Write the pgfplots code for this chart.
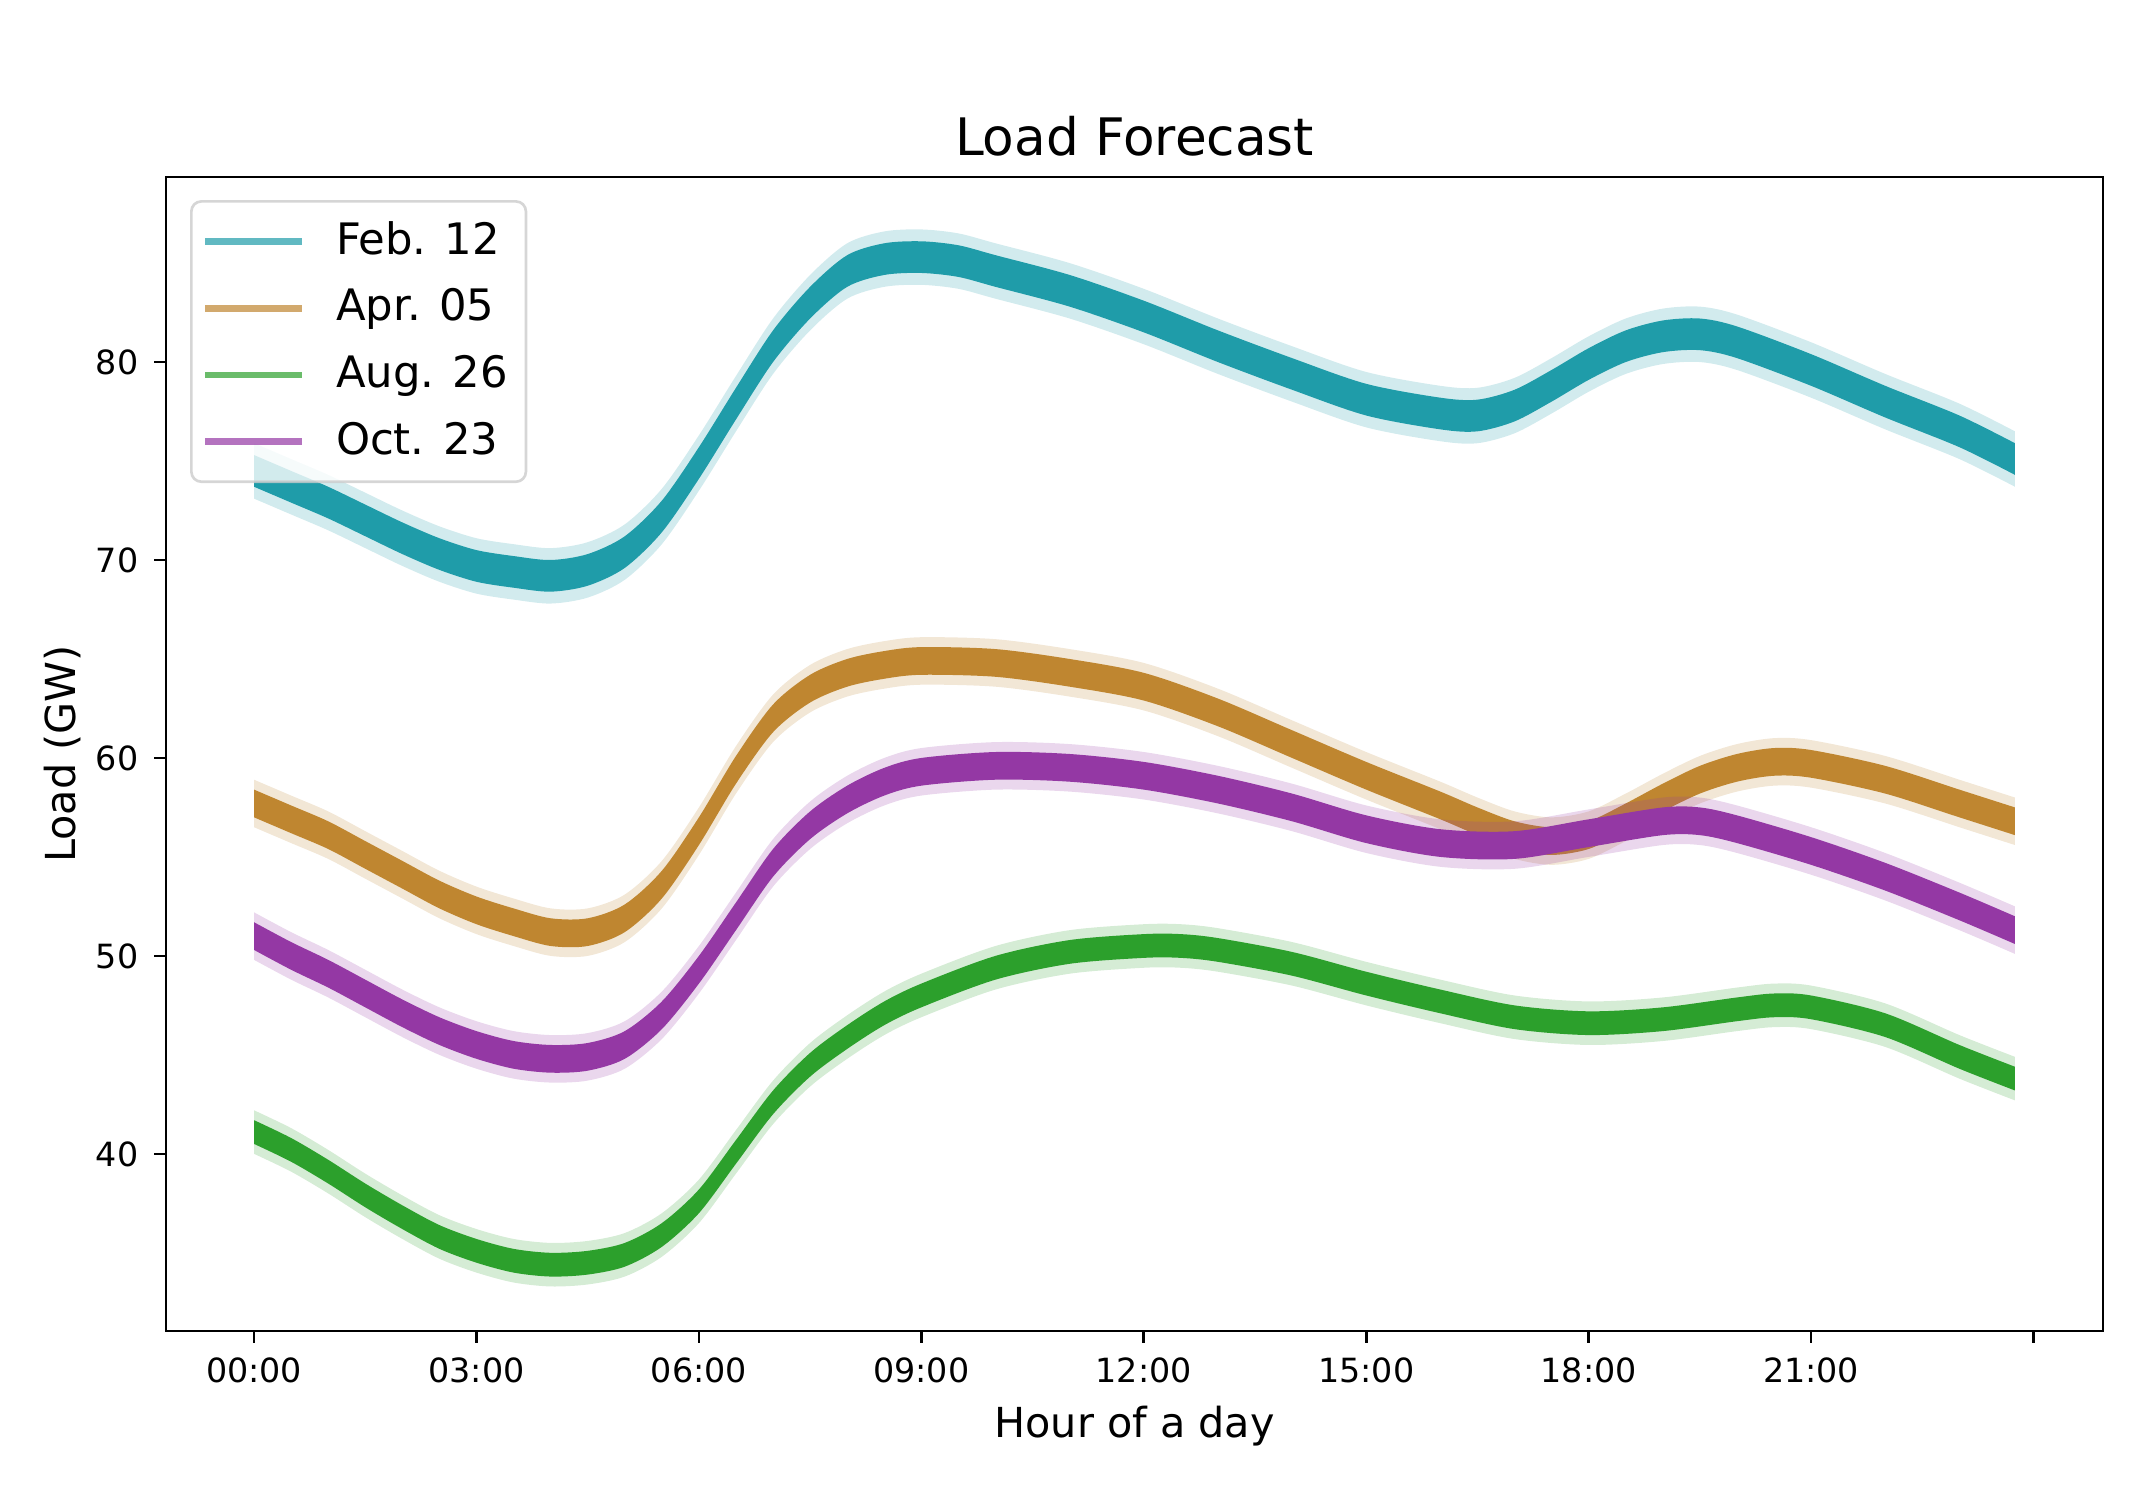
\documentclass[border=0pt]{standalone}
\usepackage{pgfplots}
\pgfplotsset{compat=1.18}
\usepackage{pgfplotstable}
\usepgfplotslibrary{fillbetween}
\usepackage{fontspec}
\setmainfont{DejaVu Sans}
\definecolor{cteal}{HTML}{1F9CA9}
\definecolor{cgold}{HTML}{BF8630}
\definecolor{cgreen}{HTML}{2CA02C}
\definecolor{cpurple}{HTML}{9438A4}

\pgfplotstableread{
h lo2 lo hi hi2
0 73.1 73.7 75.3 75.9
0.5 72.3 72.9 74.5 75.1
1 71.5 72.1 73.7 74.3
1.5 70.6 71.2 72.8 73.4
2 69.7 70.3 71.9 72.5
2.5 68.9 69.5 71.1 71.7
3 68.3 68.9 70.5 71.1
3.5 68.0 68.6 70.2 70.8
4 67.8 68.4 70.0 70.6
4.5 68.1 68.7 70.3 70.9
5 69.0 69.6 71.2 71.8
5.5 70.8 71.4 73.0 73.6
6 73.5 74.1 75.7 76.3
6.5 76.5 77.1 78.7 79.3
7 79.4 80.0 81.6 82.2
7.5 81.6 82.2 83.8 84.4
8 83.2 83.8 85.4 86.0
8.5 83.8 84.4 86.0 86.6
9 83.9 84.5 86.1 86.7
9.5 83.7 84.3 85.9 86.5
10 83.2 83.8 85.4 86.0
11 82.2 82.8 84.4 85.0
12 80.9 81.5 83.1 83.7
13 79.4 80.0 81.6 82.2
14 78.0 78.6 80.2 80.8
15 76.7 77.3 78.9 79.5
16 76.0 76.6 78.2 78.8
16.5 75.9 76.5 78.1 78.7
17 76.4 77.0 78.6 79.2
17.5 77.4 78.0 79.6 80.2
18 78.5 79.1 80.7 81.3
18.5 79.4 80.0 81.6 82.2
19 79.9 80.5 82.1 82.7
19.5 80.0 80.6 82.2 82.8
20 79.6 80.2 81.8 82.4
21 78.2 78.8 80.4 81.0
22 76.6 77.2 78.8 79.4
23 75.1 75.7 77.3 77.9
23.75 73.7 74.3 75.9 76.5
}\tabfeb

\pgfplotstableread{
h lo2 lo hi hi2
0 56.5 57.0 58.4 58.9
0.5 55.7 56.2 57.6 58.1
1 54.9 55.4 56.8 57.3
1.5 53.9 54.4 55.8 56.3
2 52.9 53.4 54.8 55.3
2.5 51.9 52.4 53.8 54.3
3 51.1 51.6 53.0 53.5
3.5 50.5 51.0 52.4 52.9
4 50.0 50.5 51.9 52.4
4.5 50.0 50.5 51.9 52.4
5 50.7 51.2 52.6 53.1
5.5 52.4 52.9 54.3 54.8
6 55.1 55.6 57.0 57.5
6.5 58.2 58.7 60.1 60.6
7 60.8 61.3 62.7 63.2
7.5 62.3 62.8 64.2 64.7
8 63.1 63.6 65.0 65.5
8.5 63.5 64.0 65.4 65.9
9 63.7 64.2 65.6 66.1
10 63.6 64.1 65.5 66.0
11 63.1 63.6 65.0 65.5
12 62.4 62.9 64.3 64.8
13 61.1 61.6 63.0 63.5
14 59.5 60.0 61.4 61.9
15 57.9 58.4 59.8 60.3
16 56.4 56.9 58.3 58.8
16.5 55.6 56.1 57.5 58.0
17 54.9 55.4 56.8 57.3
17.5 54.6 55.1 56.5 57.0
18 54.9 55.4 56.8 57.3
18.5 55.8 56.3 57.7 58.2
19 56.8 57.3 58.7 59.2
19.5 57.7 58.2 59.6 60.1
20 58.3 58.8 60.2 60.7
20.5 58.6 59.1 60.5 61.0
21 58.5 59.0 60.4 60.9
22 57.7 58.2 59.6 60.1
23 56.5 57.0 58.4 58.9
23.75 55.6 56.1 57.5 58.0
}\tabapr

\pgfplotstableread{
h lo2 lo hi hi2
0 40.0 40.5 41.7 42.2
0.5 39.1 39.6 40.8 41.3
1 38.0 38.5 39.7 40.2
1.5 36.8 37.3 38.5 39.0
2 35.7 36.2 37.4 37.9
2.5 34.7 35.2 36.4 36.9
3 34.0 34.5 35.7 36.2
3.5 33.5 34.0 35.2 35.7
4 33.3 33.8 35.0 35.5
4.5 33.4 33.9 35.1 35.6
5 33.8 34.3 35.5 36.0
5.5 34.8 35.3 36.5 37.0
6 36.5 37.0 38.2 38.7
6.5 39.0 39.5 40.7 41.2
7 41.5 42.0 43.2 43.7
7.5 43.4 43.9 45.1 45.6
8 44.8 45.3 46.5 47.0
8.5 46.0 46.5 47.7 48.2
9 46.9 47.4 48.6 49.1
10 48.3 48.8 50.0 50.5
11 49.1 49.6 50.8 51.3
12 49.4 49.9 51.1 51.6
12.5 49.4 49.9 51.1 51.6
13 49.2 49.7 50.9 51.4
14 48.5 49.0 50.2 50.7
15 47.5 48.0 49.2 49.7
16 46.6 47.1 48.3 48.8
17 45.8 46.3 47.5 48.0
18 45.5 46.0 47.2 47.7
19 45.7 46.2 47.4 47.9
20 46.2 46.7 47.9 48.4
20.5 46.4 46.9 48.1 48.6
21 46.3 46.8 48.0 48.5
22 45.4 45.9 47.1 47.6
23 43.8 44.3 45.5 46.0
23.75 42.7 43.2 44.4 44.9
}\tabaug

\pgfplotstableread{
h lo2 lo hi hi2
0 49.8 50.3 51.7 52.2
0.5 48.8 49.3 50.7 51.2
1 47.9 48.4 49.8 50.3
1.5 46.9 47.4 48.8 49.3
2 45.9 46.4 47.8 48.3
2.5 45.0 45.5 46.9 47.4
3 44.3 44.8 46.2 46.7
3.5 43.8 44.3 45.7 46.2
4 43.6 44.1 45.5 46.0
4.5 43.7 44.2 45.6 46.1
5 44.3 44.8 46.2 46.7
5.5 45.8 46.3 47.7 48.2
6 48.1 48.6 50.0 50.5
6.5 50.8 51.3 52.7 53.2
7 53.5 54.0 55.4 55.9
7.5 55.4 55.9 57.3 57.8
8 56.7 57.2 58.6 59.1
8.5 57.6 58.1 59.5 60.0
9 58.1 58.6 60.0 60.5
10 58.4 58.9 60.3 60.8
11 58.3 58.8 60.2 60.7
12 57.9 58.4 59.8 60.3
13 57.2 57.7 59.1 59.6
14 56.3 56.8 58.2 58.7
15 55.2 55.7 57.1 57.6
16 54.5 55.0 56.4 56.9
17 54.4 54.9 56.3 56.8
18 55.0 55.5 56.9 57.4
19 55.6 56.1 57.5 58.0
19.5 55.6 56.1 57.5 58.0
20 55.2 55.7 57.1 57.6
21 54.1 54.6 56.0 56.5
22 52.8 53.3 54.7 55.2
23 51.3 51.8 53.2 53.7
23.75 50.1 50.6 52.0 52.5
}\taboct

\begin{document}
\begin{tikzpicture}
\begin{axis}[
  at={(49.8bp,50.1bp)}, anchor=south west,
  scale only axis, width=581.1bp, height=346.2bp,
  xmin=-1.1875, xmax=24.9375, ymin=31.05, ymax=89.35,
  xtick={0,3,6,9,12,15,18,21,24},
  xticklabels={00:00,03:00,06:00,09:00,12:00,15:00,18:00,21:00,{}},
  ytick={40,50,60,70,80},
  /pgf/number format/assume math mode=true,
  tick align=outside, major tick length=3.5bp,
  xtick pos=bottom, ytick pos=left,
  axis line style={line width=0.8bp, black},
  tick style={line width=0.8bp, black},
  ticklabel style={font=\fontsize{10bp}{12bp}\selectfont, inner sep=0pt, text height=7.3bp, text depth=0pt},
  xticklabel style={anchor=north, yshift=-4.6bp},
  yticklabel style={anchor=east, xshift=-4.6bp},
  title={Load Forecast},
  title style={at={(axis description cs:0.5,1)}, anchor=base, yshift=0.4bp, inner sep=0pt, font=\fontsize{15.5bp}{18bp}\selectfont},
  xlabel={Hour of a day},
  xlabel style={at={(axis description cs:0.5,0)}, anchor=north, yshift=-22.8bp, inner sep=0pt, text height=9bp, text depth=0pt, font=\fontsize{12.4bp}{15bp}\selectfont},
  ylabel={Load (GW)},
  ylabel style={at={(axis description cs:0,0.5)}, anchor=south, yshift=27bp, inner sep=0pt, text depth=0pt, font=\fontsize{12.4bp}{15bp}\selectfont},
  legend image code/.code={\draw[#1] (0bp,0bp) -- (29.1bp,0bp);},
  legend cell align=left,
  legend style={at={(axis description cs:0.0124,0.980)}, anchor=north west,
    draw=black!20, fill=white, fill opacity=0.8, draw opacity=0.8, text opacity=1,
    rounded corners=3bp, line width=0.8bp,
    inner xsep=3.1bp, inner ysep=6.3bp, row sep=8.5bp,
    font=\fontsize{13bp}{15bp}\selectfont,
    nodes={inner sep=0pt, text height=9.5bp, text depth=2bp},
    /tikz/every odd column/.append style={column sep=9.2bp}},
]
% Feb. 12
\addplot[draw=none, name path=fa, forget plot, smooth] table[x=h,y=lo2]{\tabfeb};
\addplot[draw=none, name path=fb, forget plot, smooth] table[x=h,y=lo]{\tabfeb};
\addplot[draw=none, name path=fc, forget plot, smooth] table[x=h,y=hi]{\tabfeb};
\addplot[draw=none, name path=fd, forget plot, smooth] table[x=h,y=hi2]{\tabfeb};
\addplot[fill=cteal, fill opacity=0.2, draw=none, forget plot] fill between[of=fa and fd];
\addplot[fill=cteal, draw=none, forget plot] fill between[of=fb and fc];
% Apr. 05
\addplot[draw=none, name path=aa, forget plot, smooth] table[x=h,y=lo2]{\tabapr};
\addplot[draw=none, name path=ab, forget plot, smooth] table[x=h,y=lo]{\tabapr};
\addplot[draw=none, name path=ac, forget plot, smooth] table[x=h,y=hi]{\tabapr};
\addplot[draw=none, name path=ad, forget plot, smooth] table[x=h,y=hi2]{\tabapr};
\addplot[fill=cgold, fill opacity=0.2, draw=none, forget plot] fill between[of=aa and ad];
\addplot[fill=cgold, draw=none, forget plot] fill between[of=ab and ac];
% Aug. 26
\addplot[draw=none, name path=ga, forget plot, smooth] table[x=h,y=lo2]{\tabaug};
\addplot[draw=none, name path=gb, forget plot, smooth] table[x=h,y=lo]{\tabaug};
\addplot[draw=none, name path=gc, forget plot, smooth] table[x=h,y=hi]{\tabaug};
\addplot[draw=none, name path=gd, forget plot, smooth] table[x=h,y=hi2]{\tabaug};
\addplot[fill=cgreen, fill opacity=0.2, draw=none, forget plot] fill between[of=ga and gd];
\addplot[fill=cgreen, draw=none, forget plot] fill between[of=gb and gc];
% Oct. 23
\addplot[draw=none, name path=oa, forget plot, smooth] table[x=h,y=lo2]{\taboct};
\addplot[draw=none, name path=ob, forget plot, smooth] table[x=h,y=lo]{\taboct};
\addplot[draw=none, name path=oc, forget plot, smooth] table[x=h,y=hi]{\taboct};
\addplot[draw=none, name path=od, forget plot, smooth] table[x=h,y=hi2]{\taboct};
\addplot[fill=cpurple, fill opacity=0.2, draw=none, forget plot] fill between[of=oa and od];
\addplot[fill=cpurple, draw=none, forget plot] fill between[of=ob and oc];

\addlegendimage{cteal, line width=2bp, draw opacity=0.7}
\addlegendentry{Feb. 12}
\addlegendimage{cgold, line width=2bp, draw opacity=0.7}
\addlegendentry{Apr. 05}
\addlegendimage{cgreen, line width=2bp, draw opacity=0.7}
\addlegendentry{Aug. 26\hspace*{2.3bp}}
\addlegendimage{cpurple, line width=2bp, draw opacity=0.7}
\addlegendentry{Oct. 23}
\end{axis}
\path (0,0) rectangle (645.3bp,449.4bp);
\end{tikzpicture}
\end{document}
